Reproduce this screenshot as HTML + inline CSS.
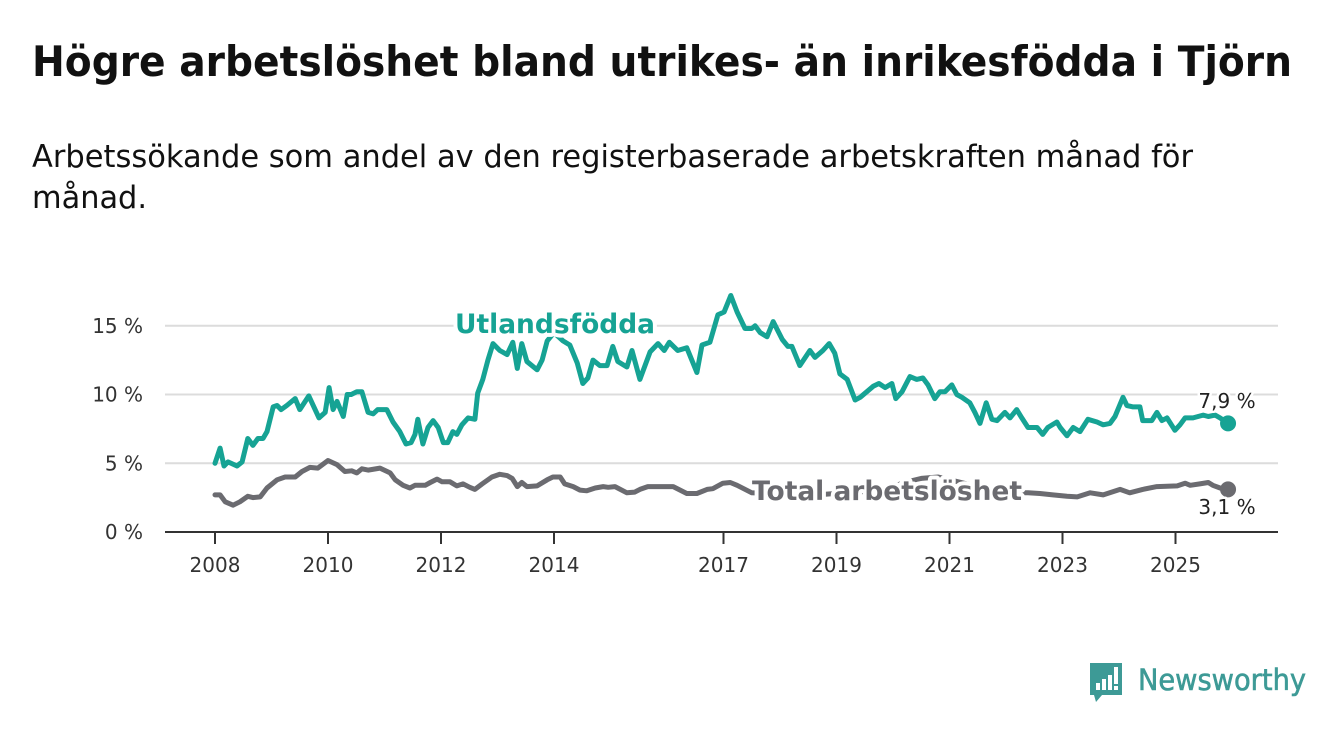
<!DOCTYPE html>
<html><head><meta charset="utf-8"><style>
html,body{margin:0;padding:0;background:#fff;}
svg{display:block;font-family:"DejaVu Sans","Liberation Sans",sans-serif;}
</style></head><body>
<svg id="chart" width="1340" height="734" viewBox="0 0 1340 734">
<text x="32" y="76" font-size="42" font-weight="bold" fill="#111" textLength="1260" lengthAdjust="spacingAndGlyphs">Högre arbetslöshet bland utrikes- än inrikesfödda i Tjörn</text>
<text x="32" y="167" font-size="31" fill="#111" textLength="1161" lengthAdjust="spacingAndGlyphs">Arbetssökande som andel av den registerbaserade arbetskraften månad för</text>
<text x="32" y="208" font-size="31" fill="#111" textLength="115" lengthAdjust="spacingAndGlyphs">månad.</text>
<g id="grid"></g><g id="axes"></g><g id="series"></g><g id="labels"></g>
<g>
<path d="M1090 663 h32 v32 h-20 l-6 7 l-2 -7 h-4 z" fill="#3d9a96"/>
<rect x="1096" y="683" width="4" height="7" fill="#fff"/><rect x="1102" y="679" width="4" height="11" fill="#fff"/><rect x="1108" y="675" width="4" height="15" fill="#fff"/><rect x="1114" y="667" width="4" height="17" fill="#fff"/><rect x="1114" y="686" width="4" height="4" fill="#fff"/>
<text x="1138" y="690" font-size="29" fill="#3d9a96" stroke="#3d9a96" stroke-width="0.6" textLength="168" lengthAdjust="spacingAndGlyphs">Newsworthy</text>
</g>
</svg>
<script>
const yTicks = [0, 5, 10, 15];
const yTickLabels = ["0 %", "5 %", "10 %", "15 %"];
const xTicks = [2008, 2010, 2012, 2014, 2017, 2019, 2021, 2023, 2025];
const foreignDates = [2008.00,2008.09,2008.16,2008.23,2008.39,2008.48,2008.58,2008.67,2008.76,2008.85,2008.92,2009.03,2009.10,2009.17,2009.27,2009.42,2009.50,2009.66,2009.84,2009.95,2010.02,2010.09,2010.16,2010.27,2010.34,2010.41,2010.51,2010.60,2010.71,2010.80,2010.88,2011.04,2011.15,2011.27,2011.38,2011.47,2011.54,2011.59,2011.68,2011.77,2011.86,2011.95,2012.04,2012.12,2012.21,2012.28,2012.37,2012.48,2012.60,2012.65,2012.74,2012.83,2012.92,2013.04,2013.17,2013.27,2013.35,2013.43,2013.52,2013.70,2013.79,2013.88,2014.00,2014.16,2014.28,2014.41,2014.51,2014.60,2014.69,2014.81,2014.94,2015.04,2015.13,2015.29,2015.38,2015.52,2015.70,2015.84,2015.95,2016.04,2016.19,2016.35,2016.53,2016.62,2016.76,2016.90,2017.01,2017.13,2017.24,2017.38,2017.50,2017.56,2017.65,2017.77,2017.88,2018.04,2018.14,2018.21,2018.35,2018.53,2018.62,2018.76,2018.87,2018.97,2019.06,2019.19,2019.33,2019.42,2019.65,2019.75,2019.86,2019.98,2020.05,2020.16,2020.30,2020.42,2020.53,2020.62,2020.74,2020.83,2020.92,2021.04,2021.13,2021.22,2021.36,2021.45,2021.54,2021.65,2021.75,2021.84,2021.98,2022.07,2022.19,2022.28,2022.39,2022.55,2022.65,2022.74,2022.90,2022.96,2023.08,2023.19,2023.31,2023.45,2023.61,2023.72,2023.84,2023.93,2024.07,2024.14,2024.25,2024.37,2024.42,2024.58,2024.67,2024.76,2024.85,2024.99,2025.08,2025.17,2025.31,2025.49,2025.58,2025.70,2025.79,2025.93];
const foreignValues = [5.0,6.1,4.8,5.1,4.8,5.1,6.8,6.3,6.8,6.8,7.3,9.1,9.2,8.9,9.2,9.7,8.9,9.9,8.3,8.7,10.5,8.9,9.5,8.4,10.0,10.0,10.2,10.2,8.7,8.6,8.9,8.9,8.0,7.3,6.4,6.5,7.1,8.2,6.4,7.6,8.1,7.6,6.5,6.5,7.3,7.1,7.8,8.3,8.2,10.1,11.1,12.5,13.7,13.2,12.9,13.8,11.9,13.7,12.4,11.8,12.5,13.9,14.5,13.9,13.6,12.3,10.8,11.2,12.5,12.1,12.1,13.5,12.4,12.0,13.2,11.1,13.1,13.7,13.2,13.8,13.2,13.4,11.6,13.6,13.8,15.8,16.0,17.2,16.0,14.8,14.8,15.0,14.5,14.2,15.3,14.0,13.5,13.5,12.1,13.2,12.7,13.2,13.7,13.0,11.5,11.1,9.6,9.8,10.6,10.8,10.5,10.8,9.7,10.2,11.3,11.1,11.2,10.7,9.7,10.2,10.2,10.7,10.0,9.8,9.4,8.7,7.9,9.4,8.2,8.1,8.7,8.3,8.9,8.3,7.6,7.6,7.1,7.6,8.0,7.6,7.0,7.6,7.3,8.2,8.0,7.8,7.9,8.4,9.8,9.2,9.1,9.1,8.1,8.1,8.7,8.1,8.3,7.4,7.8,8.3,8.3,8.5,8.4,8.5,8.3,7.9];
const totalDates = [2008.00,2008.09,2008.18,2008.32,2008.44,2008.58,2008.67,2008.80,2008.92,2009.10,2009.24,2009.42,2009.54,2009.68,2009.82,2010.00,2010.16,2010.30,2010.42,2010.51,2010.60,2010.71,2010.92,2011.10,2011.19,2011.33,2011.45,2011.54,2011.72,2011.81,2011.93,2012.02,2012.16,2012.28,2012.39,2012.51,2012.60,2012.73,2012.90,2013.04,2013.17,2013.26,2013.35,2013.43,2013.52,2013.70,2013.88,2013.98,2014.11,2014.19,2014.34,2014.46,2014.58,2014.73,2014.87,2014.96,2015.08,2015.29,2015.43,2015.52,2015.66,2015.88,2016.11,2016.35,2016.53,2016.71,2016.81,2016.99,2017.12,2017.24,2017.50,2017.80,2018.30,2018.80,2019.30,2019.80,2020.20,2020.50,2020.80,2021.10,2021.50,2021.90,2022.20,2022.39,2022.60,2022.83,2023.08,2023.26,2023.49,2023.72,2024.02,2024.19,2024.42,2024.67,2025.03,2025.17,2025.26,2025.43,2025.58,2025.66,2025.79,2025.93];
const totalValues = [2.7,2.7,2.2,1.95,2.2,2.6,2.5,2.55,3.2,3.8,4.0,4.0,4.4,4.7,4.65,5.2,4.9,4.4,4.45,4.3,4.6,4.5,4.65,4.3,3.8,3.4,3.2,3.4,3.4,3.6,3.85,3.65,3.65,3.35,3.5,3.25,3.1,3.5,4.0,4.2,4.1,3.9,3.3,3.6,3.3,3.35,3.8,4.0,4.0,3.5,3.3,3.05,3.0,3.2,3.3,3.25,3.3,2.85,2.9,3.1,3.3,3.3,3.3,2.8,2.8,3.1,3.15,3.55,3.6,3.4,2.85,2.8,2.7,2.75,2.9,3.0,3.6,3.9,4.0,3.7,3.3,3.0,2.85,2.85,2.8,2.7,2.6,2.55,2.85,2.7,3.1,2.85,3.1,3.3,3.35,3.55,3.4,3.5,3.6,3.4,3.2,3.1];

const NS = "http://www.w3.org/2000/svg";
const x0 = 215, pxPerYear = 56.5, y0 = 532, pxPerPct = 13.75;
function xScale(t){ return x0 + (t - 2008) * pxPerYear; }
function yScale(v){ return y0 - v * pxPerPct; }
function mk(tag, attrs, parent){ const e = document.createElementNS(NS, tag); for (const k in attrs) e.setAttribute(k, attrs[k]); parent.appendChild(e); return e; }
const grid = document.getElementById('grid'), axes = document.getElementById('axes'), series = document.getElementById('series'), labels = document.getElementById('labels');
yTicks.forEach((v, i) => {
  if (v > 0) {
    const l = mk('line', {x1:165, x2:1278, y1:yScale(v), y2:yScale(v), stroke:'#dcdcdc', 'stroke-width':2}, grid);
    
    
  }
  const t = mk('text', {x:143, y:yScale(v)+7, 'text-anchor':'end', 'font-size':20, fill:'#333'}, axes);
  t.textContent = yTickLabels[i];
  
  
});
const ax = mk('line', {x1:165, x2:1278, y1:y0, y2:y0, stroke:'#333', 'stroke-width':2}, axes);


xTicks.forEach(yr => {
  const tk = mk('line', {x1:xScale(yr), x2:xScale(yr), y1:y0, y2:y0+12, stroke:'#333', 'stroke-width':2}, axes);
  
  
  const t = mk('text', {x:xScale(yr), y:y0+40, 'text-anchor':'middle', 'font-size':20, fill:'#333'}, axes);
  t.textContent = String(yr);
  
  
});
function drawLine(dates, vals, color, name){
  const d = dates.map((t, i) => (i ? 'L' : 'M') + xScale(t).toFixed(1) + ' ' + yScale(vals[i]).toFixed(1)).join(' ');
  const p = mk('path', {d:d, fill:'none', stroke:color, 'stroke-width':5, 'stroke-linejoin':'round', 'stroke-linecap':'round'}, series);
  
  
  const n = dates.length - 1;
  const c = mk('circle', {cx:xScale(dates[n]), cy:yScale(vals[n]), r:8, fill:color}, series);
  
  
}
drawLine(totalDates, totalValues, '#6b6b70', 'total');
drawLine(foreignDates, foreignValues, '#16a394', 'foreign-born');
function label(txt, x, y, color, size, bold, name, anchor, len){
  const a = {x:x, y:y, fill:color, 'font-size':size, 'font-weight':bold?'bold':'normal', stroke:'#fff', 'stroke-width':bold?8:5, 'paint-order':'stroke', 'stroke-linejoin':'round', 'text-anchor':anchor||'start'};
  if (len){ a.textLength = len; a.lengthAdjust = 'spacingAndGlyphs'; }
  const t = mk('text', a, labels);
  t.textContent = txt;
  
  
}
label('Utlandsfödda', 455, 333, '#16a394', 27, true, 'foreign-born-label', 'start', 200);
label('Total arbetslöshet', 752, 500, '#6b6b70', 27, true, 'total-label', 'start', 270);
label('7,9 %', 1227, 408, '#222', 20, false, 'foreign-born-end-value', 'middle');
label('3,1 %', 1227, 514, '#222', 20, false, 'total-end-value', 'middle');
</script>
</body></html>
